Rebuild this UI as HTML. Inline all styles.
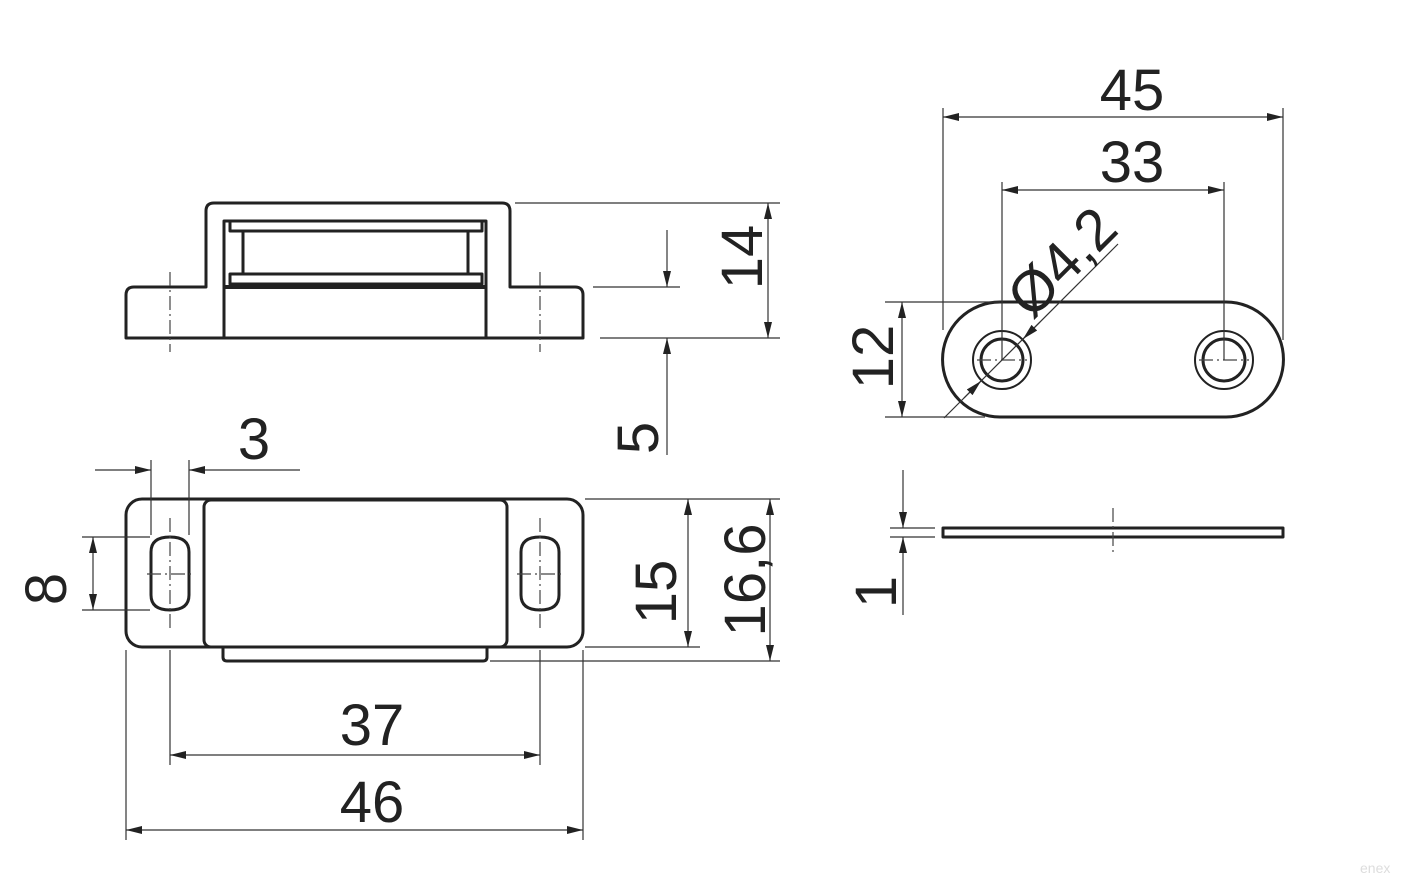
<!DOCTYPE html>
<html><head><meta charset="utf-8"><style>
html,body{margin:0;padding:0;background:#fff;}
svg{display:block;}
text{font-family:"Liberation Sans",sans-serif;font-size:58px;fill:#222;}
</style></head><body>
<svg width="1409" height="893" viewBox="0 0 1409 893" xmlns="http://www.w3.org/2000/svg">
<defs>
<marker id="a" viewBox="0 0 16 8" refX="16" refY="4" markerWidth="16" markerHeight="8" markerUnits="userSpaceOnUse" orient="auto-start-reverse">
<path d="M0,0 L16,4 L0,8 z" fill="#222"/></marker>
</defs>
<g fill="none" stroke="#222" stroke-width="3" stroke-linejoin="round">
<path d="M126,338 L126,295 Q126,287 134,287 L206,287 L206,211 Q206,203 214,203 L502,203 Q510,203 510,211 L510,287 L575,287 Q583,287 583,295 L583,338 Z"/>
<path d="M224,338 L224,221 L486,221 L486,338"/>
<rect x="230" y="221" width="252" height="10"/>
<rect x="230" y="274" width="252" height="10"/>
<line x1="243" y1="231" x2="243" y2="274"/>
<line x1="468" y1="231" x2="468" y2="274"/>
<line x1="224" y1="287" x2="486" y2="287" stroke-width="4"/>
<rect x="126" y="499" width="457" height="148" rx="16"/>
<rect x="204" y="500" width="303" height="147" rx="7"/>
<path d="M223,647 L223,657 Q223,661 227,661 L483,661 Q487,661 487,657 L487,647"/>
<path d="M151,552 Q151,537 170,537 Q189,537 189,552 L189,595 Q189,610 170,610 Q151,610 151,595 Z"/>
<path d="M521,552 Q521,537 540,537 Q559,537 559,552 L559,595 Q559,610 540,610 Q521,610 521,595 Z"/>
<path d="M1000,302 L1226,302 A57.5,57.5 0 0 1 1226,417 L1000,417 A57.5,57.5 0 0 1 1000,302 Z"/>
<circle cx="1002" cy="360" r="29" stroke-width="2"/>
<circle cx="1002" cy="360" r="21"/>
<circle cx="1224" cy="360" r="29" stroke-width="2"/>
<circle cx="1224" cy="360" r="21"/>
<rect x="943" y="528" width="340" height="9"/>
</g>
<g stroke="#444" stroke-width="1.2" fill="none" stroke-dasharray="14,4,2,4">
<line x1="170" y1="272" x2="170" y2="352"/>
<line x1="540" y1="272" x2="540" y2="352"/>
<line x1="170" y1="518" x2="170" y2="630"/>
<line x1="540" y1="518" x2="540" y2="630"/>
<line x1="147" y1="574" x2="195" y2="574"/>
<line x1="517" y1="574" x2="565" y2="574"/>
<line x1="977" y1="360" x2="1027" y2="360"/>
<line x1="1199" y1="360" x2="1249" y2="360"/>
<line x1="1113" y1="508" x2="1113" y2="556"/>
</g>
<g stroke="#333" stroke-width="1.2" fill="none">
<line x1="515" y1="203" x2="780" y2="203"/>
<line x1="593" y1="287" x2="680" y2="287"/>
<line x1="600" y1="338" x2="780" y2="338"/>
<line x1="768" y1="203" x2="768" y2="338" marker-start="url(#a)" marker-end="url(#a)"/>
<line x1="667" y1="230" x2="667" y2="287" marker-end="url(#a)"/>
<line x1="667" y1="338" x2="667" y2="455" marker-start="url(#a)"/>
<line x1="151" y1="460" x2="151" y2="535"/>
<line x1="189" y1="460" x2="189" y2="535"/>
<line x1="95" y1="470" x2="151" y2="470" marker-end="url(#a)"/>
<line x1="189" y1="470" x2="300" y2="470" marker-start="url(#a)"/>
<line x1="82" y1="537" x2="150" y2="537"/>
<line x1="82" y1="610" x2="150" y2="610"/>
<line x1="93" y1="537" x2="93" y2="610" marker-start="url(#a)" marker-end="url(#a)"/>
<line x1="585" y1="499" x2="780" y2="499"/>
<line x1="585" y1="647" x2="700" y2="647"/>
<line x1="490" y1="661" x2="780" y2="661"/>
<line x1="688" y1="499" x2="688" y2="647" marker-start="url(#a)" marker-end="url(#a)"/>
<line x1="770" y1="499" x2="770" y2="661" marker-start="url(#a)" marker-end="url(#a)"/>
<line x1="170" y1="650" x2="170" y2="765"/>
<line x1="540" y1="650" x2="540" y2="765"/>
<line x1="126" y1="650" x2="126" y2="840"/>
<line x1="583" y1="650" x2="583" y2="840"/>
<line x1="170" y1="755" x2="540" y2="755" marker-start="url(#a)" marker-end="url(#a)"/>
<line x1="126" y1="830" x2="583" y2="830" marker-start="url(#a)" marker-end="url(#a)"/>
<line x1="943" y1="108" x2="943" y2="330"/>
<line x1="1283" y1="108" x2="1283" y2="340"/>
<line x1="943" y1="117" x2="1283" y2="117" marker-start="url(#a)" marker-end="url(#a)"/>
<line x1="1002" y1="182" x2="1002" y2="360"/>
<line x1="1224" y1="182" x2="1224" y2="360"/>
<line x1="1002" y1="190" x2="1224" y2="190" marker-start="url(#a)" marker-end="url(#a)"/>
<line x1="885" y1="302" x2="1000" y2="302"/>
<line x1="885" y1="417" x2="985" y2="417"/>
<line x1="902" y1="302" x2="902" y2="417" marker-start="url(#a)" marker-end="url(#a)"/>
<line x1="944" y1="418" x2="1118" y2="244"/>
<line x1="1040" y1="322" x2="1023" y2="339" marker-end="url(#a)"/>
<line x1="964" y1="398" x2="981" y2="381" marker-end="url(#a)"/>
<line x1="890" y1="528" x2="935" y2="528"/>
<line x1="890" y1="537" x2="935" y2="537"/>
<line x1="903" y1="470" x2="903" y2="528" marker-end="url(#a)"/>
<line x1="903" y1="537" x2="903" y2="615" marker-start="url(#a)"/>
</g>
<text x="254" y="459" text-anchor="middle">3</text>
<text x="372" y="745" text-anchor="middle">37</text>
<text x="372" y="822" text-anchor="middle">46</text>
<text x="1132" y="110" text-anchor="middle">45</text>
<text x="1132" y="182" text-anchor="middle">33</text>
<text transform="translate(762,257) rotate(-90)" text-anchor="middle">14</text>
<text transform="translate(658,438) rotate(-90)" text-anchor="middle">5</text>
<text transform="translate(66,589) rotate(-90)" text-anchor="middle">8</text>
<text transform="translate(676,592) rotate(-90)" text-anchor="middle">15</text>
<text transform="translate(765,580) rotate(-90)" text-anchor="middle">16,6</text>
<text transform="translate(893,357) rotate(-90)" text-anchor="middle">12</text>
<text transform="translate(896,592) rotate(-90)" text-anchor="middle">1</text>
<text transform="translate(1076,276) rotate(-45)" text-anchor="middle">Ø4,2</text>
<text x="1360" y="873" style="font-size:14px;fill:#ddd">enex</text>
</svg>
</body></html>
